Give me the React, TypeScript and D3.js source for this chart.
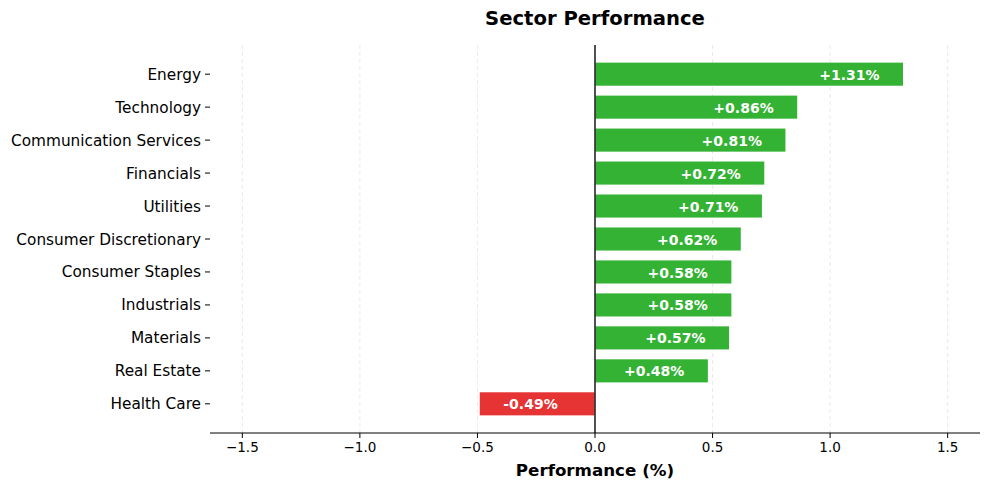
import React, { useEffect, useRef } from 'react'
import * as d3 from 'd3'

const sectors = [
  'Energy',
  'Technology',
  'Communication Services',
  'Financials',
  'Utilities',
  'Consumer Discretionary',
  'Consumer Staples',
  'Industrials',
  'Materials',
  'Real Estate',
  'Health Care',
]
const performance = [1.31, 0.86, 0.81, 0.72, 0.71, 0.62, 0.58, 0.58, 0.57, 0.48, -0.49]
const xTicks = [-1.5, -1.0, -0.5, 0.0, 0.5, 1.0, 1.5]

const WIDTH = 989
const HEIGHT = 490
const FONT = '"DejaVu Sans", sans-serif'

export default function App() {
  const svgRef = useRef<SVGSVGElement>(null)

  useEffect(() => {
    if (!svgRef.current) return
    const svg = d3.select(svgRef.current)
    svg.selectAll('*').remove()

    const left = 210
    const right = 980
    const top = 45
    const bottom = 433

    const maxAbs = d3.max(performance, d => Math.abs(d))! * 1.25
    const x = d3.scaleLinear().domain([-maxAbs, maxAbs]).range([left, right])
    const n = sectors.length
    // matplotlib-like margins around bars of height 0.7
    const pad = 0.35 + (n - 1 + 0.7) * 0.05
    const y = d3.scaleLinear().domain([-pad, n - 1 + pad]).range([top, bottom])
    const barH = y(0.35) - y(-0.35)

    // grid
    svg.append('g')
      .selectAll('line')
      .data(xTicks)
      .join('line')
      .attr('x1', d => x(d))
      .attr('x2', d => x(d))
      .attr('y1', top)
      .attr('y2', bottom)
      .attr('stroke', '#b0b0b0')
      .attr('stroke-opacity', 0.35)
      .attr('stroke-dasharray', '4,3')
      .attr('stroke-width', 0.8)

    // bars
    svg.append('g')
      .selectAll('rect')
      .data(performance)
      .join('rect')
      .attr('x', d => x(Math.min(0, d)))
      .attr('width', d => Math.abs(x(d) - x(0)))
      .attr('y', (_, i) => y(i) - barH / 2)
      .attr('height', barH)
      .attr('fill', d => (d >= 0 ? '#33b233' : '#e63333'))

    // value labels
    svg.append('g')
      .selectAll('text')
      .data(performance)
      .join('text')
      .attr('x', d => (d >= 0 ? x(d - 0.1) : x(d + 0.1)))
      .attr('y', (_, i) => y(i) + 0.5)
      .attr('dy', '0.36em')
      .attr('text-anchor', d => (d >= 0 ? 'end' : 'start'))
      .attr('fill', '#ffffff')
      .attr('font-weight', 'bold')
      .attr('font-size', 14)
      .attr('font-family', FONT)
      .text(d => (d >= 0 ? `+${d.toFixed(2)}%` : `${d.toFixed(2)}%`))

    // zero line
    svg.append('line')
      .attr('x1', x(0))
      .attr('x2', x(0))
      .attr('y1', top)
      .attr('y2', bottom)
      .attr('stroke', '#333333')
      .attr('stroke-width', 1.7)

    // y axis (ticks only, no spine)
    const yAxis = svg.append('g')
    sectors.forEach((s, i) => {
      yAxis.append('line')
        .attr('x1', left - 5)
        .attr('x2', left)
        .attr('y1', y(i))
        .attr('y2', y(i))
        .attr('stroke', '#000')
        .attr('stroke-width', 1)
      yAxis.append('text')
        .attr('x', left - 9)
        .attr('y', y(i))
        .attr('dy', '0.36em')
        .attr('text-anchor', 'end')
        .attr('font-size', 15.3)
        .attr('font-family', FONT)
        .attr('fill', '#000')
        .text(s)
    })

    // x axis
    const xAxis = svg.append('g').attr('transform', `translate(0,${bottom})`)
    xAxis.append('line')
      .attr('x1', left)
      .attr('x2', right)
      .attr('stroke', '#000')
      .attr('stroke-width', 1)
    xTicks.forEach(t => {
      xAxis.append('line')
        .attr('x1', x(t))
        .attr('x2', x(t))
        .attr('y1', 0)
        .attr('y2', 5)
        .attr('stroke', '#000')
      xAxis.append('text')
        .attr('x', x(t))
        .attr('y', 19)
        .attr('text-anchor', 'middle')
        .attr('font-size', 13.5)
        .attr('font-family', FONT)
        .attr('fill', '#000')
        .text(t < 0 ? `\u2212${Math.abs(t).toFixed(1)}` : t.toFixed(1))
    })

    // x label
    svg.append('text')
      .attr('x', (left + right) / 2)
      .attr('y', 476)
      .attr('text-anchor', 'middle')
      .attr('font-size', 16.7)
      .attr('font-weight', 'bold')
      .attr('font-family', FONT)
      .text('Performance (%)')

    // title
    svg.append('text')
      .attr('x', (left + right) / 2)
      .attr('y', 25)
      .attr('text-anchor', 'middle')
      .attr('font-size', 19.6)
      .attr('font-weight', 'bold')
      .attr('font-family', FONT)
      .text('Sector Performance')
  }, [])

  return (
    <div style={{ position: 'absolute', left: 0, top: 0, background: '#fff' }}>
      <svg ref={svgRef} width={WIDTH} height={HEIGHT} style={{ display: 'block' }} />
    </div>
  )
}
